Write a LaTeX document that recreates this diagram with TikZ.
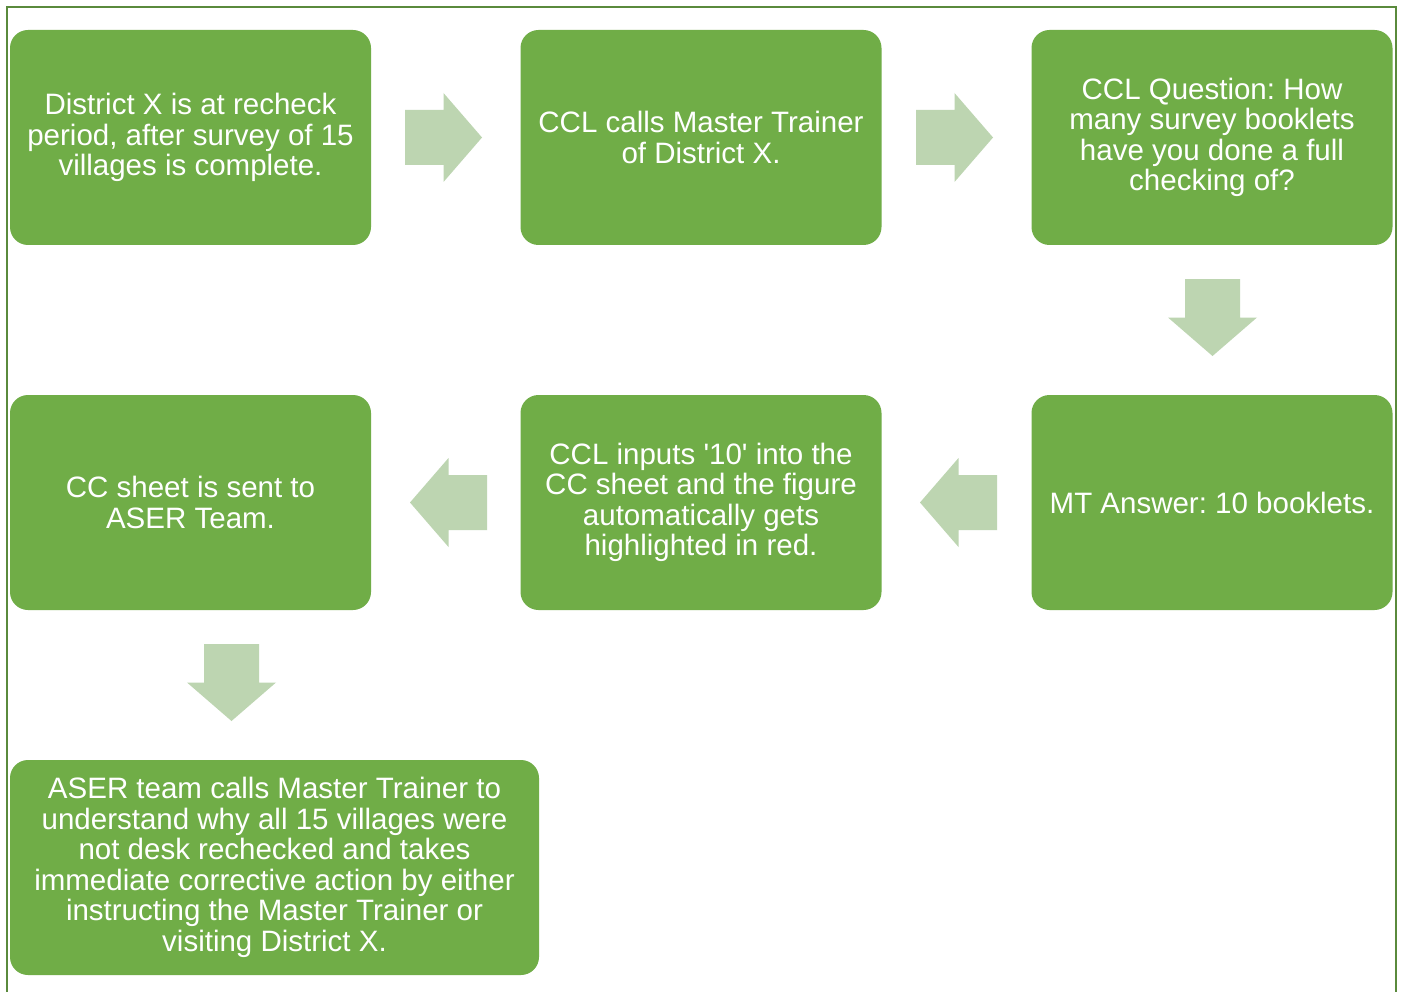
\documentclass[tikz,border=0pt]{standalone}
\usepackage{fontspec}
\setmainfont{Liberation Sans}[Ligatures=TeXOff]
\definecolor{boxgreen}{HTML}{70AD47}
\definecolor{arrowgreen}{HTML}{BDD5B1}
\definecolor{framegreen}{HTML}{5A8A3C}
\tikzset{
  stepbox/.style={fill=boxgreen, rounded corners=18pt, minimum width=361pt, minimum height=215pt,
    inner sep=0pt, text=white, align=center, font=\fontsize{29.5pt}{30.5pt}\selectfont\frenchspacing},
  blockarrow/.pic={
    \fill[arrowgreen] (-38.5,-27.5) -- (0,-27.5) -- (0,-44.5) -- (38.5,0) -- (0,44.5) -- (0,27.5) -- (-38.5,27.5) -- cycle;
  }
}
\begin{document}
\begin{tikzpicture}[x=1pt,y=-1pt]
\useasboundingbox (0,0) rectangle (1402,992);
\fill[white] (0,0) rectangle (1402,992);
\draw[framegreen, line width=2pt] (7,1010) -- (7,7) -- (1396,7) -- (1396,1010);
\node[stepbox] (b1) at (190.5,137.5) {District X is at recheck\\period, after survey of 15\\villages is complete.};
\node[stepbox] (b2) at (701,137.5) {CCL calls Master Trainer\\of District X.};
\node[stepbox] (b3) at (1212,137.5) {CCL Question: How\\many survey booklets\\have you done a full\\checking of?};
\node[stepbox] (b6) at (1212,502.5) {MT Answer: 10 booklets.};
\node[stepbox] (b5) at (701,502.5) {CCL inputs '10' into the\\CC sheet and the figure\\automatically gets\\highlighted in red.};
\node[stepbox] (b4) at (190.5,502.5) {CC sheet is sent to\\ASER Team.};
\node[stepbox, minimum width=529pt] (b7) at (274.5,867.5) {ASER team calls Master Trainer to\\understand why all 15 villages were\\not desk rechecked and takes\\immediate corrective action by either\\instructing the Master Trainer or\\visiting District X.};
\pic at (443.5,137.5) {blockarrow};
\pic at (954.5,137.5) {blockarrow};
\pic[rotate=-90] at (1212.5,317.5) {blockarrow};
\pic[rotate=180] at (958.5,502.5) {blockarrow};
\pic[rotate=180] at (448.5,502.5) {blockarrow};
\pic[rotate=-90] at (231.5,682.5) {blockarrow};
\end{tikzpicture}
\end{document}
